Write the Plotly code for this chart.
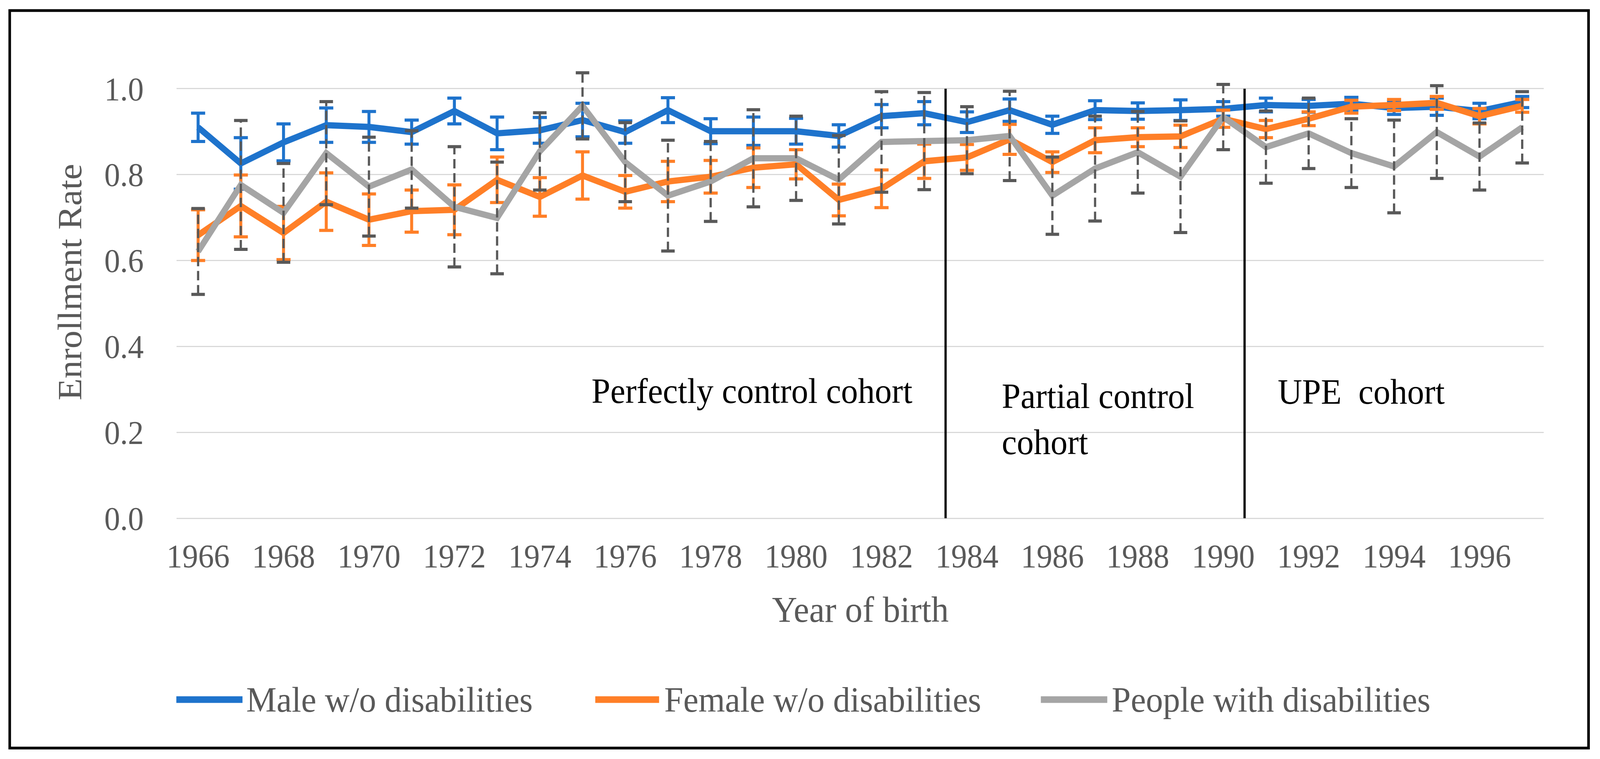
import plotly.graph_objects as go

years = list(range(1966, 1998))

male = [0.910, 0.826, 0.875, 0.915, 0.911, 0.899, 0.948, 0.896, 0.903, 0.927,
        0.899, 0.950, 0.901, 0.901, 0.901, 0.890, 0.936, 0.943, 0.922, 0.950,
        0.916, 0.950, 0.948, 0.950, 0.953, 0.962, 0.960, 0.965, 0.955, 0.958,
        0.948, 0.969]
male_err = [0.033, 0.060, 0.043, 0.040, 0.036, 0.028, 0.030, 0.038, 0.030, 0.039,
            0.026, 0.029, 0.029, 0.033, 0.030, 0.026, 0.027, 0.027, 0.024, 0.026,
            0.020, 0.022, 0.019, 0.024, 0.017, 0.016, 0.015, 0.015, 0.015, 0.020,
            0.018, 0.013]

female = [0.659, 0.727, 0.664, 0.737, 0.695, 0.715, 0.718, 0.788, 0.748, 0.798,
          0.760, 0.784, 0.795, 0.816, 0.824, 0.741, 0.767, 0.831, 0.840, 0.882,
          0.829, 0.880, 0.887, 0.889, 0.930, 0.906, 0.930, 0.958, 0.962, 0.967,
          0.936, 0.960]
female_err = [0.059, 0.072, 0.062, 0.067, 0.060, 0.049, 0.058, 0.053, 0.045, 0.055,
              0.038, 0.047, 0.038, 0.046, 0.034, 0.037, 0.044, 0.040, 0.030, 0.035,
              0.024, 0.029, 0.022, 0.026, 0.020, 0.020, 0.016, 0.015, 0.013, 0.015,
              0.018, 0.015]

disabled = [0.621, 0.776, 0.711, 0.850, 0.772, 0.812, 0.725, 0.699, 0.854, 0.960,
            0.829, 0.751, 0.784, 0.838, 0.838, 0.788, 0.876, 0.878, 0.880, 0.890,
            0.751, 0.814, 0.852, 0.795, 0.934, 0.864, 0.896, 0.850, 0.819, 0.899,
            0.842, 0.910]
disabled_err = [0.100, 0.150, 0.115, 0.120, 0.115, 0.090, 0.140, 0.130, 0.090, 0.077,
                0.092, 0.129, 0.093, 0.113, 0.098, 0.103, 0.117, 0.113, 0.078, 0.104,
                0.090, 0.122, 0.095, 0.130, 0.076, 0.084, 0.082, 0.080, 0.108, 0.108,
                0.078, 0.083]

series_names = ["Male w/o disabilities", "Female w/o disabilities", "People with disabilities"]
colors = ["#1E73CC", "#FF7F27", "#A5A5A5"]
err_gray = "#595959"

y_ticks = [0.0, 0.2, 0.4, 0.6, 0.8, 1.0]
x_ticks = list(range(1966, 1998, 2))
cohort_breaks = [1983.5, 1990.5]

FONT = "Liberation Serif, Times New Roman, Tinos, DejaVu Serif, serif"
AX = "#595959"
W, H = 4309, 1942

fig = go.Figure()

fig.add_trace(go.Scatter(
    x=years, y=male, mode="lines", name=series_names[0],
    line=dict(color=colors[0], width=16),
    error_y=dict(type="data", array=male_err, visible=True,
                 color=colors[0], thickness=8, width=19),
))
fig.add_trace(go.Scatter(
    x=years, y=female, mode="lines", name=series_names[1],
    line=dict(color=colors[1], width=16),
    error_y=dict(type="data", array=female_err, visible=True,
                 color=colors[1], thickness=8, width=19),
))
fig.add_trace(go.Scatter(
    x=years, y=disabled, mode="lines", name=series_names[2],
    line=dict(color=colors[2], width=16),
))

# dashed error bars for people with disabilities
ex, ey = [], []
for yr, v, e in zip(years, disabled, disabled_err):
    ex += [yr, yr, None]
    ey += [v - e, v + e, None]
fig.add_trace(go.Scatter(
    x=ex, y=ey, mode="lines", showlegend=False, hoverinfo="skip",
    line=dict(color=err_gray, width=6, dash="24px,12px"),
))
cx = years + years
cy = [v - e for v, e in zip(disabled, disabled_err)] + [v + e for v, e in zip(disabled, disabled_err)]
fig.add_trace(go.Scatter(
    x=cx, y=cy, mode="markers", showlegend=False, hoverinfo="skip",
    marker=dict(symbol="line-ew", size=26, line=dict(color=err_gray, width=8)),
))

# cohort separators
for b in cohort_breaks:
    fig.add_shape(type="line", xref="x", yref="y", x0=b, x1=b, y0=0, y1=1.0,
                  line=dict(color="black", width=6))

# cohort labels
fig.add_annotation(x=1978.97, y=0.296, xref="x", yref="y", text="Perfectly control cohort",
                   showarrow=False, xanchor="center", yanchor="middle",
                   font=dict(family=FONT, size=91, color="black"))
fig.add_annotation(x=1984.8, y=0.231, xref="x", yref="y", text="Partial control<br>cohort",
                   showarrow=False, xanchor="left", yanchor="middle", align="left",
                   font=dict(family=FONT, size=91, color="black"))
fig.add_annotation(x=1991.26, y=0.294, xref="x", yref="y", text="UPE\u00a0 cohort",
                   showarrow=False, xanchor="left", yanchor="middle",
                   font=dict(family=FONT, size=91, color="black"))

# axis titles
fig.add_annotation(x=-0.0785, y=0.5, xref="paper", yref="paper", text="Enrollment Rate",
                   textangle=-90, showarrow=False, xanchor="center", yanchor="middle",
                   font=dict(family=FONT, size=92, color=AX))
fig.add_annotation(x=0.5, y=-0.1927, xref="paper", yref="paper", text="Year of birth",
                   showarrow=False, xanchor="center", yanchor="middle",
                   font=dict(family=FONT, size=94, color=AX))

# legend drawn by hand (Excel-style long line samples)
leg_items = [(-0.0003, 0.0481, 0.0503), (0.3062, 0.3529, 0.3562), (0.6322, 0.6808, 0.6835)]
leg_y = -0.3838
for (x0, x1, xt), name, col in zip(leg_items, series_names, colors):
    fig.add_shape(type="line", xref="paper", yref="paper", x0=x0, x1=x1, y0=leg_y, y1=leg_y,
                  line=dict(color=col, width=17))
    fig.add_annotation(x=xt, y=leg_y, xref="paper", yref="paper", text=name,
                       showarrow=False, xanchor="left", yanchor="middle",
                       font=dict(family=FONT, size=92, color=AX))

# outer border
fig.add_shape(type="rect", xref="paper", yref="paper", x0=-0.1222, x1=1.0329,
              y0=-0.4864, y1=1.0744, line=dict(color="black", width=7), layer="above")

fig.update_layout(
    width=W, height=H,
    margin=dict(l=476, r=152, t=117, b=616),
    paper_bgcolor="white", plot_bgcolor="white",
    showlegend=False,
    font=dict(family=FONT, color=AX),
)
fig.update_xaxes(
    range=[1965.5, 1997.5], tickvals=x_ticks, ticktext=[str(t) for t in x_ticks],
    showgrid=False, zeroline=False, showline=False, ticks="",
    tickfont=dict(family=FONT, size=85, color=AX), ticklabelstandoff=40,
)
fig.update_yaxes(
    range=[0, 1.1], tickvals=y_ticks, ticktext=[f"{t:.1f}" for t in y_ticks],
    showgrid=True, gridcolor="#D9D9D9", gridwidth=3,
    zeroline=True, zerolinecolor="#D9D9D9", zerolinewidth=3,
    showline=False, ticks="",
    tickfont=dict(family=FONT, size=85, color=AX), ticklabelstandoff=88,
)

# fit the fixed-size figure into the browser viewport (which may be narrower)
post = (
    "var gd=document.getElementById('{plot_id}');var p=gd.parentElement;"
    "var iw=window.innerWidth, ih=window.innerHeight;"
    "document.documentElement.style.overflow='hidden';"
    "document.body.style.margin='0';document.body.style.overflow='hidden';"
    "var sx=Math.min(1, iw/%d), sy=Math.min(1, ih/%d);"
    "p.style.width=(%d*sx)+'px';p.style.height=(%d*sy)+'px';p.style.overflow='hidden';"
    "gd.style.transformOrigin='0 0';gd.style.transform='scale('+sx+','+sy+')';" % (W, H, W, H)
)

fig.write_html("out.html", post_script=post, config={"displayModeBar": False})
